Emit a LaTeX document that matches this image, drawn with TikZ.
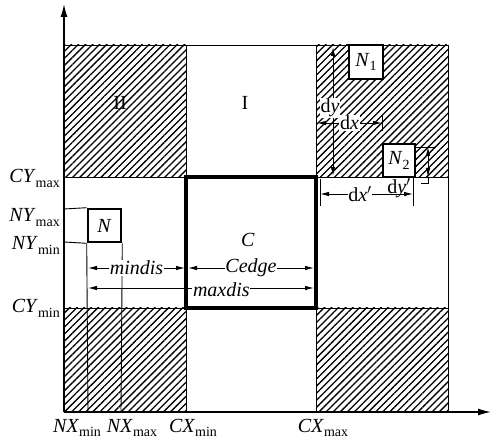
\documentclass[tikz,border=0pt]{standalone}
\usepackage{fontspec}
\setmainfont{Liberation Serif}
\usetikzlibrary{patterns.meta,arrows.meta}
\newcommand\sublbl[2]{\textit{#1}\raisebox{-4.5pt}{\fontsize{14}{14}\selectfont #2}}
\begin{document}
\begin{tikzpicture}[x=1pt,y=-1pt,
  hatch/.style={pattern={Lines[angle=45,distance=5pt,line width=1.3pt]}},
  thinline/.style={line width=0.9pt},
  axisline/.style={line width=1.2pt,-{Latex[length=13pt,width=7pt]}},
  dim/.style={line width=0.9pt,{Latex[length=9pt,width=4.5pt]}-{Latex[length=9pt,width=4.5pt]}},
  lab/.style={font=\fontsize{20}{22}\selectfont,inner sep=1pt},
  wlab/.style={lab,fill=white,inner sep=0.8pt},
  nbox/.style={draw,line width=2.6pt,fill=white,font=\fontsize{20}{22}\selectfont,inner sep=0pt},
  cbox/.style={draw,line width=4pt,minimum width=130pt,minimum height=131pt,inner sep=0pt}]
\useasboundingbox (0,0) rectangle (499,441);
% hatched regions
\fill[hatch] (64,45) rectangle (186,177);
\fill[hatch] (316,45) rectangle (448,177);
\fill[hatch] (64,308) rectangle (186,412);
\fill[hatch] (316,308) rectangle (448,412);
% frame and grid
\coordinate (FTL) at (64,45);
\coordinate (FTR) at (448,45);
\coordinate (FBR) at (448,412);
\draw[thinline] (FTL) -- (FTR) -- (FBR);
\coordinate (V1t) at (186,45); \coordinate (V1b) at (186,412);
\coordinate (V2t) at (316,45); \coordinate (V2b) at (316,412);
\coordinate (H1l) at (64,177); \coordinate (H1r) at (448,177);
\coordinate (H2l) at (64,308); \coordinate (H2r) at (448,308);
\draw[thinline] (V1t) -- (V1b);
\draw[thinline] (V2t) -- (V2b);
\draw[thinline] (H1l) -- (H1r);
\draw[thinline] (H2l) -- (H2r);
% axes
\coordinate (O) at (64,412);
\coordinate (Ytop) at (64,4);
\coordinate (Xend) at (491,412);
\draw[axisline] (O) -- (Ytop);
\draw[axisline] (O) -- (Xend);
% region labels
\node[lab] (R2) at (120,103) {II};
\node[lab] (R1) at (245,103) {I};
% C box
\node[cbox] (C) at (251,242.5) {};
\node[lab] (Clab) at (248,240) {\textit{C}};
% N box and its guide lines
\node[nbox,minimum width=33pt,minimum height=33pt] (N) at (104.5,225.5) {\textit{N}};
\coordinate (NYmaxL) at (64,209); \coordinate (NYminL) at (64,242);
\coordinate (NXminB) at (88,412); \coordinate (NXmaxB) at (121,412);
\draw[thinline] (NYmaxL) -- (N.north west);
\draw[thinline] (NYminL) -- (N.south west);
\draw[thinline] (N.south west) -- (NXminB);
\draw[thinline] (N.south east) -- (NXmaxB);
% N1, N2
\node[nbox,minimum width=34pt,minimum height=34pt] (N1) at (366,62) {\sublbl{N}{1}};
\node[nbox,minimum width=32pt,minimum height=33pt] (N2) at (399,160.5) {\sublbl{N}{2}};
% mindis, Cedge, maxdis
\coordinate (m1) at (88,268); \coordinate (m2) at (185,268);
\draw[dim] (m1) -- (m2) node[wlab,midway] {\textit{mindis}};
\coordinate (e1) at (188,268); \coordinate (e2) at (314,268);
\draw[dim] (e1) -- (e2) node[wlab,midway] {\textit{Cedge}};
\coordinate (x1) at (88,288); \coordinate (x2) at (314,288);
\draw[dim] (x1) -- (x2) node[wlab,pos=0.59,yshift=-2pt] {\textit{maxdis}};
% dy
\coordinate (dy1) at (333,47); \coordinate (dy2) at (333,176);
\draw[dim] (dy1) -- (dy2) node[wlab,pos=0.47,xshift=-3pt] {d\textit{y}};
% dx
\coordinate (dx1) at (317,123); \coordinate (dx2) at (382,123);
\coordinate (dxt1) at (382,116); \coordinate (dxt2) at (382,131);
\draw[thinline] (dxt1) -- (dxt2);
\draw[dim] (dx1) -- (dx2) node[wlab,midway] {d\textit{x}};
% dx'
\coordinate (dxp1) at (320,194); \coordinate (dxp2) at (413,194);
\coordinate (dxpa) at (320,179); \coordinate (dxpb) at (320,206);
\coordinate (dxpc) at (413,178); \coordinate (dxpd) at (413,206);
\draw[thinline] (dxpa) -- (dxpb);
\draw[thinline] (dxpc) -- (dxpd);
\draw[dim] (dxp1) -- (dxp2) node[wlab,pos=0.43] {d\textit{x}$'$};
% dy'
\coordinate (dyp1) at (428,147); \coordinate (dyp2) at (428,177);
\coordinate (dypt1) at (415,147); \coordinate (dypt2) at (436,147);
\coordinate (dypb1) at (428,183); \coordinate (dypb2) at (421,183);
\draw[thinline] (dypt1) -- (dypt2);
\draw[thinline] (dyp2) -- (dypb1) -- (dypb2);
\draw[dim] (dyp1) -- (dyp2);
\node[lab,inner sep=0pt] (dyplab) at (399,188) {d\textit{y}$'$};
% axis labels
\node[lab,anchor=base east] (CYmax) at (61,183) {\sublbl{CY}{max}};
\node[lab,anchor=base east] (NYmax) at (61,222) {\sublbl{NY}{max}};
\node[lab,anchor=base east] (NYmin) at (61,250) {\sublbl{NY}{min}};
\node[lab,anchor=base east] (CYmin) at (61,313) {\sublbl{CY}{min}};
\node[lab,anchor=base] (NXmin) at (77,432) {\sublbl{NX}{min}};
\node[lab,anchor=base] (NXmax) at (132,432) {\sublbl{NX}{max}};
\node[lab,anchor=base] (CXmin) at (193,432) {\sublbl{CX}{min}};
\node[lab,anchor=base] (CXmax) at (323,432) {\sublbl{CX}{max}};
\end{tikzpicture}
\end{document}
